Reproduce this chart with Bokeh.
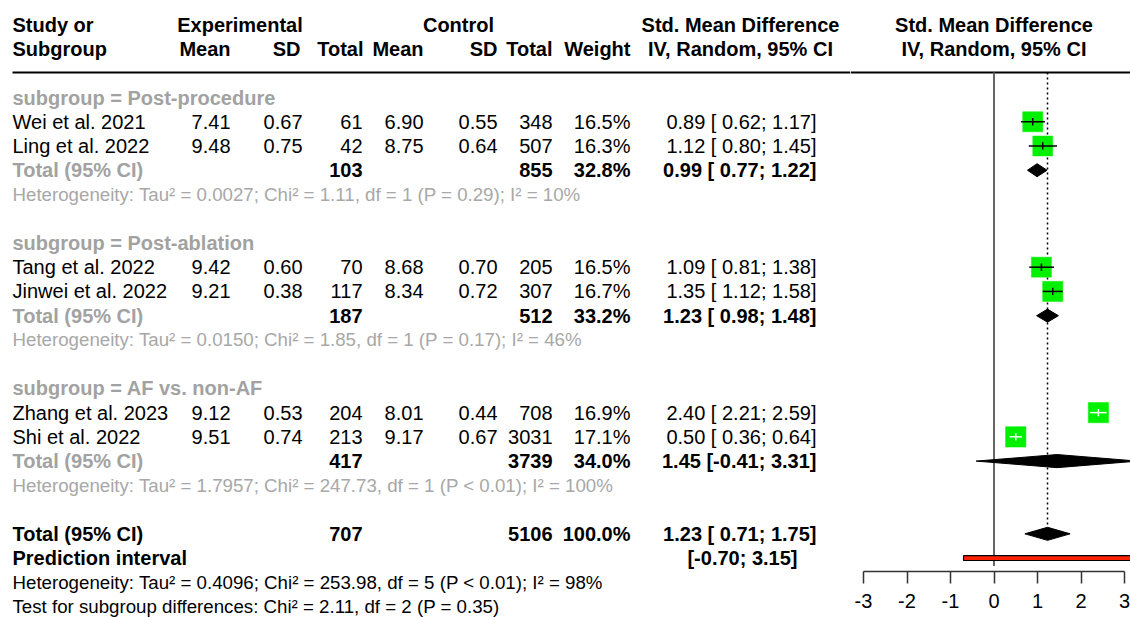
from bokeh.plotting import figure
from bokeh.layouts import row
from bokeh.models import Range1d, LinearAxis, FixedTicker, ColumnDataSource
from bokeh.core.properties import value
from bokeh.embed import file_html
from bokeh.resources import INLINE

# ---------------- data ----------------
subgroups = ["Post-procedure", "Post-ablation", "AF vs. non-AF"]
studies = ["Wei et al. 2021", "Ling et al. 2022", "Tang et al. 2022", "Jinwei et al. 2022",
           "Zhang et al. 2023", "Shi et al. 2022"]
study_group = [0, 0, 1, 1, 2, 2]
exp_mean = [7.41, 9.48, 9.42, 9.21, 9.12, 9.51]
exp_sd = [0.67, 0.75, 0.60, 0.38, 0.53, 0.74]
exp_n = [61, 42, 70, 117, 204, 213]
ctrl_mean = [6.90, 8.75, 8.68, 8.34, 8.01, 9.17]
ctrl_sd = [0.55, 0.64, 0.70, 0.72, 0.44, 0.67]
ctrl_n = [348, 507, 205, 307, 708, 3031]
weight = [16.5, 16.3, 16.5, 16.7, 16.9, 17.1]
smd = [0.89, 1.12, 1.09, 1.35, 2.40, 0.50]
smd_lo = [0.62, 0.80, 0.81, 1.12, 2.21, 0.36]
smd_hi = [1.17, 1.45, 1.38, 1.58, 2.59, 0.64]

sub_exp_n = [103, 187, 417]
sub_ctrl_n = [855, 512, 3739]
sub_weight = [32.8, 33.2, 34.0]
sub_smd = [0.99, 1.23, 1.45]
sub_lo = [0.77, 0.98, -0.41]
sub_hi = [1.22, 1.48, 3.31]
sub_tau2 = ["0.0027", "0.0150", "1.7957"]
sub_chi2 = ["1.11", "1.85", "247.73"]
sub_df = [1, 1, 1]
sub_p = ["= 0.29", "= 0.17", "< 0.01"]
sub_i2 = [10, 46, 100]

tot_exp_n = 707
tot_ctrl_n = 5106
tot_weight = 100.0
tot_smd = 1.23
tot_lo = 0.71
tot_hi = 1.75
pi_lo = -0.70
pi_hi = 3.15
tot_tau2 = "0.4096"
tot_chi2 = "253.98"
tot_df = 5
tot_p = "< 0.01"
tot_i2 = 98
test_chi2 = "2.11"
test_df = 2
test_p = "= 0.35"

axis_ticks = [-3, -2, -1, 0, 1, 2, 3]

# ---------------- layout constants ----------------
FONT = "Liberation Sans"
FS = "20px"
FS_HET = "18.7px"
GRAY = "#a2a2a2"
HGRAY = "#a8a8a8"
ROW0 = 97.0      # pixel y of row 0
DY = 24.24       # pixel height of one row
H = 617
WL = 850
WR = 280
AXIS_H = 46
FRAME_H = H - AXIS_H

def ci_str(e, lo, hi):
    return f"{e:.2f} [{lo:5.2f}; {hi:.2f}]"

# row assignments
rows_study = []
rows_sub_head = []
rows_sub_total = []
rows_sub_het = []
r = 0
for g in range(len(subgroups)):
    rows_sub_head.append(r)
    r += 1
    for i in range(len(studies)):
        if study_group[i] == g:
            rows_study.append(r)
            r += 1
    rows_sub_total.append(r)
    r += 1
    rows_sub_het.append(r)
    r += 2
row_total = r
row_pi = r + 1
row_het = r + 2
row_test = r + 3

y_start = (FRAME_H - ROW0) / DY
y_end = -ROW0 / DY

# ---------------- left (table) figure ----------------
left = figure(width=WL, height=H, x_range=Range1d(0, WL), y_range=Range1d(y_start, y_end),
              output_backend="svg", toolbar_location=None, x_axis_type=None, y_axis_type=None,
              min_border=0, min_border_bottom=AXIS_H, outline_line_color=None,
              background_fill_color="white", border_fill_color="white")
left.grid.visible = False

def add_text(p, xs, ys, texts, align="left", bold=False, color="black", size=FS):
    src = ColumnDataSource(dict(x=xs, y=ys, t=texts))
    p.text(x="x", y="y", text="t", source=src, text_font=value(FONT), text_font_size=size,
           text_font_style="bold" if bold else "normal", text_color=color,
           text_align=align, text_baseline="middle", level="overlay")

# column x positions (pixels)
X_STUDY = 12
X_EMEAN = 230
X_ESD = 302
X_ETOT = 362
X_CMEAN = 423
X_CSD = 497
X_CTOT = 552
X_W = 630
X_CI = 816
X_CIH = 740

# header
add_text(left, [X_STUDY, X_STUDY], [-3, -2], ["Study or", "Subgroup"], bold=True)
add_text(left, [239.5, 458, X_CIH, X_CIH], [-3, -3, -3, -2],
         ["Experimental", "Control", "Std. Mean Difference", "IV, Random, 95% CI"],
         align="center", bold=True)
add_text(left, [X_EMEAN, X_ESD - 2, X_ETOT + 1, X_CMEAN, X_CSD, X_CTOT, X_W],
         [-2] * 7, ["Mean", "SD", "Total", "Mean", "SD", "Total", "Weight"],
         align="right", bold=True)
left.segment(x0=[X_STUDY], x1=[WL], y0=[-1.03], y1=[-1.03], line_color="black", line_width=2)

# subgroup headings
add_text(left, [X_STUDY] * 3, rows_sub_head, [f"subgroup = {s}" for s in subgroups],
         bold=True, color=GRAY)

# study rows
add_text(left, [X_STUDY] * len(studies), rows_study, studies)
add_text(left, [X_EMEAN] * 6, rows_study, [f"{v:.2f}" for v in exp_mean], align="right")
add_text(left, [X_ESD] * 6, rows_study, [f"{v:.2f}" for v in exp_sd], align="right")
add_text(left, [X_ETOT] * 6, rows_study, [str(v) for v in exp_n], align="right")
add_text(left, [X_CMEAN] * 6, rows_study, [f"{v:.2f}" for v in ctrl_mean], align="right")
add_text(left, [X_CSD] * 6, rows_study, [f"{v:.2f}" for v in ctrl_sd], align="right")
add_text(left, [X_CTOT] * 6, rows_study, [str(v) for v in ctrl_n], align="right")
add_text(left, [X_W] * 6, rows_study, [f"{v:.1f}%" for v in weight], align="right")
add_text(left, [X_CI] * 6, rows_study,
         [ci_str(e, lo, hi) for e, lo, hi in zip(smd, smd_lo, smd_hi)], align="right")

# subgroup totals
add_text(left, [X_STUDY] * 3, rows_sub_total, ["Total (95% CI)"] * 3, bold=True, color=GRAY)
add_text(left, [X_ETOT] * 3, rows_sub_total, [str(v) for v in sub_exp_n], align="right", bold=True)
add_text(left, [X_CTOT] * 3, rows_sub_total, [str(v) for v in sub_ctrl_n], align="right", bold=True)
add_text(left, [X_W] * 3, rows_sub_total, [f"{v:.1f}%" for v in sub_weight], align="right", bold=True)
add_text(left, [X_CI] * 3, rows_sub_total,
         [ci_str(e, lo, hi) for e, lo, hi in zip(sub_smd, sub_lo, sub_hi)], align="right", bold=True)
add_text(left, [X_STUDY] * 3, rows_sub_het,
         [f"Heterogeneity: Tau\u00b2 = {t}; Chi\u00b2 = {c}, df = {d} (P {p}); I\u00b2 = {i}%"
          for t, c, d, p, i in zip(sub_tau2, sub_chi2, sub_df, sub_p, sub_i2)],
         color=HGRAY, size=FS_HET)

# overall
add_text(left, [X_STUDY, X_STUDY], [row_total, row_pi], ["Total (95% CI)", "Prediction interval"], bold=True)
add_text(left, [X_ETOT, X_CTOT, X_W, X_CI, X_CI - 19], [row_total] * 4 + [row_pi],
         [str(tot_exp_n), str(tot_ctrl_n), f"{tot_weight:.1f}%", ci_str(tot_smd, tot_lo, tot_hi),
          f"[{pi_lo:5.2f}; {pi_hi:.2f}]"], align="right", bold=True)
add_text(left, [X_STUDY, X_STUDY], [row_het, row_test],
         [f"Heterogeneity: Tau\u00b2 = {tot_tau2}; Chi\u00b2 = {tot_chi2}, df = {tot_df} (P {tot_p}); I\u00b2 = {tot_i2}%",
          f"Test for subgroup differences: Chi\u00b2 = {test_chi2}, df = {test_df} (P {test_p})"],
         size=FS_HET)

# ---------------- right (forest) figure ----------------
PX_UNIT = 43.5            # pixels per SMD unit
X_AT_M3 = 13              # pixel offset of -3 from the panel's left edge
xr_start = -3 - X_AT_M3 / PX_UNIT
xr_end = xr_start + WR / PX_UNIT
right = figure(width=WR, height=H, x_range=Range1d(xr_start, xr_end), y_range=Range1d(y_start, y_end),
               output_backend="svg", toolbar_location=None, x_axis_type=None, y_axis_type=None,
               min_border=0, min_border_bottom=AXIS_H, outline_line_color=None,
               background_fill_color="white", border_fill_color="white")
right.grid.visible = False

ax = LinearAxis(ticker=FixedTicker(ticks=axis_ticks), bounds=(-3, 3),
                major_label_overrides={t: str(t) for t in axis_ticks})
ax.major_tick_out = 12
ax.major_tick_in = 0
ax.minor_tick_line_color = None
ax.axis_line_color = "#333333"
ax.major_tick_line_color = "#333333"
ax.axis_line_width = 1.5
ax.major_tick_line_width = 1.5
ax.major_label_text_font = FONT
ax.major_label_text_font_size = FS
ax.major_label_text_color = "black"
ax.major_label_standoff = 10
right.add_layout(ax, "below")

# header
src_h = ColumnDataSource(dict(x=[0, 0], y=[-3, -2], t=["Std. Mean Difference", "IV, Random, 95% CI"]))
right.text(x="x", y="y", text="t", source=src_h, text_font=value(FONT), text_font_size=FS,
           text_font_style="bold", text_align="center", text_baseline="middle", text_color="black",
           level="overlay")
right.segment(x0=[xr_start], x1=[xr_end], y0=[-1.03], y1=[-1.03], line_color="black", line_width=2)

# reference lines
right.segment(x0=[0], x1=[0], y0=[-1.03], y1=[row_pi + 0.33], line_color="#666666", line_width=2)
right.segment(x0=[tot_smd], x1=[tot_smd], y0=[-1.03], y1=[row_total - 0.3],
              line_color="black", line_width=1.5, line_dash="2 3")

# study squares
side_px = [20.0 * (w / 16.5) ** 0.5 for w in weight]
right.rect(x=smd, y=rows_study, width=side_px, height=side_px, width_units="screen",
           height_units="screen", fill_color="#00f000", line_color="#00f000", line_width=0.5)
ci_col = ["white" if (hi - lo) * PX_UNIT < s - 2 else "black"
          for lo, hi, s in zip(smd_lo, smd_hi, side_px)]
right.segment(x0=smd_lo, x1=smd_hi, y0=rows_study, y1=rows_study, line_color=ci_col, line_width=1.5)
right.segment(x0=smd, x1=smd, y0=[r_ - 0.15 for r_ in rows_study], y1=[r_ + 0.15 for r_ in rows_study],
              line_color=ci_col, line_width=1.5)

# diamonds
HD = 0.27
dx, dy = [], []
for e, lo, hi, rr in zip(sub_smd + [tot_smd], sub_lo + [tot_lo], sub_hi + [tot_hi],
                         rows_sub_total + [row_total]):
    dx.append([lo, e, hi, e])
    dy.append([rr, rr - HD, rr, rr + HD])
right.patches(xs=dx, ys=dy, fill_color="black", line_color="black", line_width=1)

# prediction interval
right.quad(left=[pi_lo], right=[pi_hi], top=[row_pi - 0.1], bottom=[row_pi + 0.1],
           fill_color="#ff2200", line_color="black", line_width=1.2)

layout = row(left, right)
open("out.html", "w").write(file_html(layout, INLINE))
